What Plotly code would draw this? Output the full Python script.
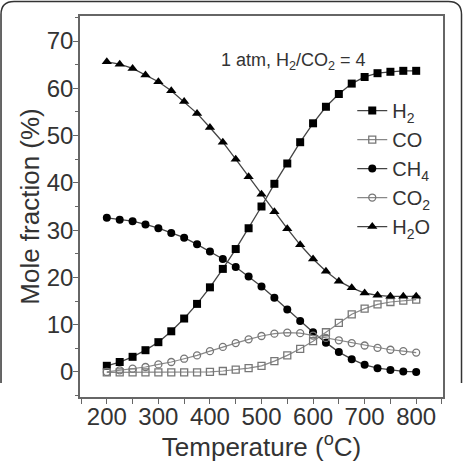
import plotly.graph_objects as go

temps = [200, 225, 250, 275, 300, 325, 350, 375, 400, 425, 450, 475, 500,
         525, 550, 575, 600, 625, 650, 675, 700, 725, 750, 775, 800]

h2 = [1.3, 2.1, 3.2, 4.6, 6.3, 8.6, 11.3, 14.4, 17.9, 21.8, 26.0, 30.4, 35.0,
      39.8, 44.1, 48.6, 52.6, 56.1, 58.8, 61.0, 62.4, 63.2, 63.5, 63.7, 63.7]
co = [-0.1, -0.1, -0.1, -0.1, -0.1, -0.1, -0.1, -0.1, 0.0, 0.2, 0.5, 0.8, 1.3,
      2.3, 3.5, 4.9, 6.5, 8.4, 10.4, 12.2, 13.4, 14.3, 14.8, 15.1, 15.3]
ch4 = [32.6, 32.2, 31.9, 31.2, 30.4, 29.4, 28.4, 27.0, 25.5, 23.9, 22.2, 20.2, 18.1,
       15.7, 13.2, 10.8, 8.4, 6.2, 4.2, 2.7, 1.5, 0.8, 0.4, 0.1, 0.0]
co2 = [0.0, 0.35, 0.7, 1.05, 1.6, 2.1, 2.8, 3.5, 4.4, 5.3, 6.1, 6.9, 7.6,
       8.1, 8.3, 8.2, 7.7, 7.2, 6.7, 6.1, 5.6, 5.1, 4.7, 4.4, 4.1]
h2o = [65.6, 65.1, 64.2, 62.8, 61.4, 59.5, 57.2, 54.7, 51.7, 48.6, 45.0, 41.3, 37.6,
       33.9, 30.3, 26.9, 23.9, 21.3, 19.2, 17.8, 16.7, 16.2, 16.0, 16.0, 16.0]

series = [
    ("H<sub>2</sub>", h2, "square", True),
    ("CO", co, "square-open", False),
    ("CH<sub>4</sub>", ch4, "circle", True),
    ("CO<sub>2</sub>", co2, "circle-open", False),
    ("H<sub>2</sub>O", h2o, "triangle-up", True),
]

FONT = "Liberation Sans, Arial, sans-serif"

fig = go.Figure()
for name, vals, sym, filled in series:
    if filled:
        line = dict(color="#444444", width=1.3)
        marker = dict(symbol=sym, size=9 if "triangle" in sym else 8, color="#000000",
                      line=dict(width=0))
    else:
        line = dict(color="#888888", width=1.2)
        marker = dict(symbol=sym, size=7, color="#777777", line=dict(width=1.3, color="#777777"))
    fig.add_trace(go.Scatter(x=temps, y=vals, name=name, mode="lines+markers",
                             line=line, marker=marker))

axis_common = dict(
    showline=True, linecolor="#666666", linewidth=1.5, mirror=True,
    ticks="outside", ticklen=5, tickwidth=1.3, tickcolor="#666666",
    showgrid=False, zeroline=False, automargin=False,
    tickfont=dict(family=FONT, size=24, color="#333333"),
)

fig.update_xaxes(range=[148, 852], tickvals=[200, 300, 400, 500, 600, 700, 800],
                 ticklabelstandoff=-8,
                 minor=dict(ticks="outside", ticklen=5, tickwidth=1.3, tickcolor="#666666",
                            tickvals=[150, 250, 350, 450, 550, 650, 750, 850]),
                 title=dict(text="Temperature (<sup>o</sup>C)", standoff=0,
                            font=dict(family=FONT, size=26, color="#333333")),
                 **axis_common)
fig.update_yaxes(range=[-5.3, 75.3], tickvals=[0, 10, 20, 30, 40, 50, 60, 70],
                 ticklabelstandoff=-5,
                 minor=dict(ticks="outside", ticklen=3, tickwidth=1.3, tickcolor="#666666",
                            tickvals=[-5, 5, 15, 25, 35, 45, 55, 65, 75]),
                 title=dict(text="Mole fraction (%)", standoff=0,
                            font=dict(family=FONT, size=26, color="#333333")),
                 **axis_common)

fig.add_annotation(x=0.587, y=0.916, xref="paper", yref="paper",
                   text="1 atm, H<sub>2</sub>/CO<sub>2</sub> = 4", showarrow=False,
                   font=dict(family=FONT, size=18, color="#333333"))

# outer rounded picture frame
fig.add_shape(type="path", xref="paper", yref="paper", layer="above",
              path=("M -0.2176,0.037 L -0.2176,1.004 Q -0.2176,1.038 -0.1816,1.038 "
                    "L 1.015,1.038 Q 1.051,1.038 1.051,1.004 L 1.051,0.037"),
              line=dict(color="#333333", width=1.5))

fig.update_layout(
    width=463, height=462,
    margin=dict(l=80, r=20, t=16, b=65),
    paper_bgcolor="white", plot_bgcolor="white",
    font=dict(family=FONT, color="#333333"),
    showlegend=True,
    legend=dict(x=0.75, y=0.803, xanchor="left", yanchor="top",
                bgcolor="rgba(0,0,0,0)", borderwidth=0,
                font=dict(family=FONT, size=20, color="#333333"),
                tracegroupgap=0),
)

fig.write_html("out.html")
